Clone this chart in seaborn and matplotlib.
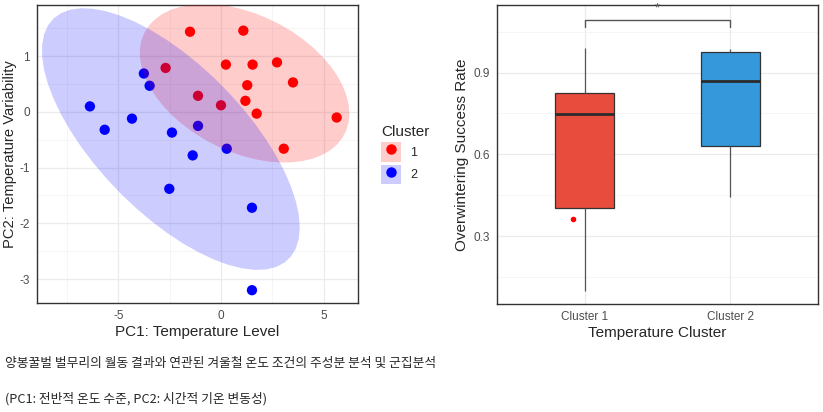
import numpy as np
import pandas as pd
import seaborn as sns
import matplotlib
matplotlib.use("Agg")
import matplotlib.pyplot as plt
from matplotlib.ticker import AutoMinorLocator, FixedLocator
from matplotlib.patches import Patch
from matplotlib.lines import Line2D

# PCA scores
pc1_c1 = [-1.51, 1.09, -2.70, 0.24, 1.54, 2.73, 1.28, 3.51, -1.12, 0.00, 1.19, 1.74, 5.64, 3.06]
pc2_c1 = [1.44, 1.46, 0.79, 0.85, 0.85, 0.89, 0.48, 0.53, 0.29, 0.12, 0.20, -0.03, -0.10, -0.66]
pc1_c2 = [-3.76, -3.48, -6.39, -5.67, -4.34, -2.39, -1.12, -1.38, 0.28, -2.52, 1.51, 1.51]
pc2_c2 = [0.69, 0.47, 0.10, -0.32, -0.12, -0.37, -0.25, -0.78, -0.66, -1.38, -1.72, -3.20]

# overwintering success rate per cluster
rate_c1 = [0.10, 0.25, 0.36, 0.39, 0.442, 0.60, 0.72, 0.774, 0.79, 0.81, 0.829, 0.88, 0.93, 0.989]
rate_c2 = [0.444, 0.55, 0.60, 0.641, 0.74, 0.85, 0.888, 0.94, 0.975, 0.983, 0.985, 0.988]
marked_rate = [0.364]
cluster_labels = ["Cluster 1", "Cluster 2"]
sig_label = "*"

caption1 = "양봉꿀벌 벌무리의 월동 결과와 연관된 겨울철 온도 조건의 주성분 분석 및 군집분석"
caption2 = "(PC1: 전반적 온도 수준, PC2: 시간적 기온 변동성)"

pt_colors = {"1": "#ff0000", "2": "#0000ff"}
box_colors = {"Cluster 1": "#e74c3c", "Cluster 2": "#3498db"}


def cov_trob(xy, nu=5, maxit=25, tol=0.01):
    """Robust t-based location/scatter (as in MASS::cov.trob)."""
    n, p = xy.shape
    loc = xy.mean(axis=0)
    w = np.ones(n)
    for _ in range(maxit):
        w0 = w
        X = xy - loc
        _, d, vt = np.linalg.svd(np.sqrt(w / w.sum())[:, None] * X, full_matrices=False)
        wX = X @ vt.T @ np.diag(1 / d)
        Q = (wX ** 2).sum(axis=1)
        w = (nu + p) / (nu + Q)
        loc = (w[:, None] * xy).sum(axis=0) / w.sum()
        if np.all(np.abs(w - w0) < tol):
            break
    sX = np.sqrt(w)[:, None] * X
    return loc, sX.T @ sX / n


def ellipse_pts(x, y, level=0.95, segments=51):
    xy = np.column_stack([x, y])
    n = len(x)
    center, shape = cov_trob(xy)
    dfd = n - 1
    qf = (dfd / 2) * ((1 - level) ** (-2 / dfd) - 1)  # F(2, dfd) quantile
    radius = np.sqrt(2 * qf)
    ang = np.linspace(0, 2 * np.pi, segments + 1)
    circle = np.column_stack([np.cos(ang), np.sin(ang)])
    L = np.linalg.cholesky(shape)
    return center + radius * circle @ L.T


def style_axes(ax):
    for s in ax.spines.values():
        s.set_color("#333333")
        s.set_linewidth(1.0)
    ax.xaxis.set_minor_locator(AutoMinorLocator(2))
    ax.yaxis.set_minor_locator(AutoMinorLocator(2))
    ax.grid(which="major", color="#ebebeb", linewidth=0.9)
    ax.grid(which="minor", color="#f2f2f2", linewidth=0.5)
    ax.set_axisbelow(True)
    ax.tick_params(which="major", length=3, width=0.8, color="#333333", pad=2,
                   labelsize=8.5, labelcolor="#4d4d4d", direction="out")
    ax.tick_params(which="minor", length=0)


sns.set_style("white")
plt.rcParams["font.family"] = ["Liberation Sans", "Noto Sans CJK KR"]
plt.rcParams["axes.unicode_minus"] = False

pca_df = pd.DataFrame({
    "PC1": pc1_c1 + pc1_c2,
    "PC2": pc2_c1 + pc2_c2,
    "Cluster": ["1"] * len(pc1_c1) + ["2"] * len(pc1_c2),
})
rate_df = pd.DataFrame({
    "Cluster": [cluster_labels[0]] * len(rate_c1) + [cluster_labels[1]] * len(rate_c2),
    "Rate": rate_c1 + rate_c2,
})

fig = plt.figure(figsize=(8.23, 4.12), dpi=100)
ax1 = fig.add_axes([37 / 823, 109 / 412, 321 / 823, 298 / 412])
ax2 = fig.add_axes([497 / 823, 108 / 412, 321 / 823, 299 / 412])

# --- PCA scatter with ellipses
sns.scatterplot(data=pca_df, x="PC1", y="PC2", hue="Cluster", palette=pt_colors,
                s=55, edgecolor="none", legend=False, ax=ax1, zorder=2)
for key, xs, ys in [("1", pc1_c1, pc2_c1), ("2", pc1_c2, pc2_c2)]:
    e = ellipse_pts(np.array(xs), np.array(ys))
    ax1.fill(e[:, 0], e[:, 1], color=pt_colors[key], alpha=0.2, lw=0, zorder=3)

ax1.set_xlim(-8.97, 6.68)
ax1.set_ylim(-3.43, 1.92)
ax1.xaxis.set_major_locator(FixedLocator([-5, 0, 5]))
ax1.yaxis.set_major_locator(FixedLocator([-3, -2, -1, 0, 1]))
style_axes(ax1)
ax1.set_xlabel("PC1: Temperature Level", fontsize=11, labelpad=2)
ax1.set_ylabel("PC2: Temperature Variability", fontsize=10.6)
ax1.yaxis.set_label_coords(-0.062, 0.5)

handles = [(Patch(facecolor=pt_colors[k], alpha=0.2, edgecolor="none"),
            Line2D([], [], marker="o", ls="", color=pt_colors[k], markersize=6.5))
           for k in ["1", "2"]]
leg = fig.legend(handles, ["1", "2"], title="Cluster", loc="upper left",
                 bbox_to_anchor=(370 / 823, 1 - 114 / 412), frameon=False,
                 fontsize=9, title_fontsize=11, handlelength=1.6, handleheight=2.0,
                 handletextpad=0.7, labelspacing=0.25, alignment="left")

# --- Boxplot of success rate
sns.boxplot(data=rate_df, x="Cluster", y="Rate", hue="Cluster", palette=box_colors,
            saturation=1, width=0.4, linecolor="#333333", linewidth=0.9, legend=False,
            ax=ax2, whiskerprops={"color": "#555555"}, capprops={"visible": False},
            medianprops={"color": "#2b2b2b", "linewidth": 2.0}, zorder=2)
ax2.scatter([0 - 0.08] * len(marked_rate), marked_rate, s=9, color="#ff0000", zorder=4)

ax2.set_xlim(-0.6, 1.6)
ax2.set_ylim(0.051, 1.148)
ax2.yaxis.set_major_locator(FixedLocator([0.3, 0.6, 0.9]))
ax2.set_yticklabels(["0.3", "0.6", "0.9"])
style_axes(ax2)
ax2.xaxis.set_minor_locator(FixedLocator([]))
ax2.set_xlabel("Temperature Cluster", fontsize=11, labelpad=2)
ax2.set_ylabel("Overwintering Success Rate", fontsize=11)
ax2.yaxis.set_label_coords(-0.086, 0.5)

# significance bracket
y_top, y_tick = 1.093, 1.067
ax2.plot([0, 0, 1, 1], [y_tick, y_top, y_top, y_tick], color="#555555", lw=1.0, zorder=3)
ax2.text(0.5, 1.135, sig_label, ha="center", va="center", fontsize=9,
         color="#555555", clip_on=False, zorder=5)

# captions
fig.text(5 / 823, 1 - 363 / 412, caption1, fontsize=9.2, va="center", ha="left",
         family=["Noto Sans CJK KR", "DejaVu Sans"])
fig.text(5 / 823, 1 - 399 / 412, caption2, fontsize=9.2, va="center", ha="left",
         family=["Noto Sans CJK KR", "DejaVu Sans"])

fig.savefig("out.png", dpi=100)
